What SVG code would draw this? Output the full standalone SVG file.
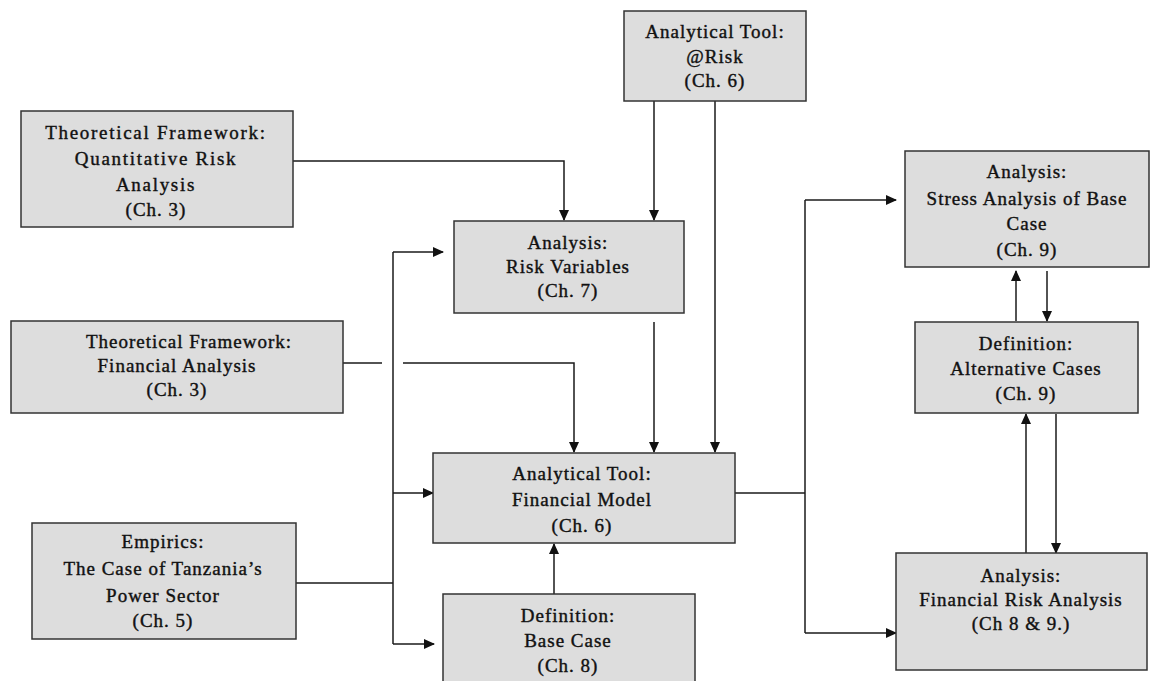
<svg xmlns="http://www.w3.org/2000/svg" width="1150" height="681" viewBox="0 0 1150 681">
<style>
.box{fill:#dddddd;stroke:#333333;stroke-width:1.5}
.t{font-family:"Liberation Serif","Times New Roman",serif;font-size:19px;fill:#111111;stroke:#111111;stroke-width:0.4;text-anchor:middle;letter-spacing:1px}
.c{fill:none;stroke:#1a1a1a;stroke-width:1.5}
</style>
<defs>
<marker id="ah" markerWidth="12" markerHeight="12" refX="10" refY="5" orient="auto" markerUnits="userSpaceOnUse">
<path d="M0,0 L11,5 L0,10 Z" fill="#111111"/>
</marker>
</defs>
<rect width="1150" height="681" fill="#ffffff"/>
<g id="connectors">
<path class="c" d="M293,161 H564 V220" marker-end="url(#ah)"/>
<path class="c" d="M654,101 V220" marker-end="url(#ah)"/>
<path class="c" d="M715,101 V452" marker-end="url(#ah)"/>
<path class="c" d="M654,322 V452" marker-end="url(#ah)"/>
<path class="c" d="M343,363 H382"/>
<path class="c" d="M403,363 H574 V452" marker-end="url(#ah)"/>
<path class="c" d="M296,583 H393"/>
<path class="c" d="M393,252 V644"/>
<path class="c" d="M393,252 H443" marker-end="url(#ah)"/>
<path class="c" d="M393,493 H433" marker-end="url(#ah)"/>
<path class="c" d="M393,644 H434" marker-end="url(#ah)"/>
<path class="c" d="M554,594 V544" marker-end="url(#ah)"/>
<path class="c" d="M735,493 H805"/>
<path class="c" d="M805,200 V633"/>
<path class="c" d="M805,200 H896" marker-end="url(#ah)"/>
<path class="c" d="M805,633 H896" marker-end="url(#ah)"/>
<path class="c" d="M1016,321 V271" marker-end="url(#ah)"/>
<path class="c" d="M1047,271 V321" marker-end="url(#ah)"/>
<path class="c" d="M1026,553 V414" marker-end="url(#ah)"/>
<path class="c" d="M1056,414 V553" marker-end="url(#ah)"/>
</g>
<g id="risk-tool">
<rect class="box" x="624" y="11" width="182" height="90"/>
<text class="t" x="715" y="38">Analytical Tool:</text>
<text class="t" x="715" y="63">@Risk</text>
<text class="t" x="715" y="87">(Ch. 6)</text>
</g>
<g id="quant-framework">
<rect class="box" x="21" y="111" width="272" height="116"/>
<text class="t" x="156" y="139" style="letter-spacing:1.7px">Theoretical Framework:</text>
<text class="t" x="156" y="165" style="letter-spacing:1.7px">Quantitative Risk</text>
<text class="t" x="156" y="191" style="letter-spacing:1.7px">Analysis</text>
<text class="t" x="156" y="216">(Ch. 3)</text>
</g>
<g id="risk-variables">
<rect class="box" x="454" y="221" width="230" height="92"/>
<text class="t" x="568" y="249">Analysis:</text>
<text class="t" x="568" y="273">Risk Variables</text>
<text class="t" x="568" y="297">(Ch. 7)</text>
</g>
<g id="financial-framework">
<rect class="box" x="11" y="321" width="332" height="92"/>
<text class="t" x="189" y="348">Theoretical Framework:</text>
<text class="t" x="177" y="372">Financial Analysis</text>
<text class="t" x="177" y="396">(Ch. 3)</text>
</g>
<g id="financial-model">
<rect class="box" x="433" y="453" width="302" height="90"/>
<text class="t" x="582" y="480">Analytical Tool:</text>
<text class="t" x="582" y="506">Financial Model</text>
<text class="t" x="582" y="532">(Ch. 6)</text>
</g>
<g id="empirics">
<rect class="box" x="32" y="523" width="264" height="116"/>
<text class="t" x="163" y="548">Empirics:</text>
<text class="t" x="163" y="575">The Case of Tanzania’s</text>
<text class="t" x="163" y="602">Power Sector</text>
<text class="t" x="163" y="627">(Ch. 5)</text>
</g>
<g id="base-case">
<rect class="box" x="443" y="594" width="252" height="110"/>
<text class="t" x="568" y="622">Definition:</text>
<text class="t" x="568" y="647">Base Case</text>
<text class="t" x="568" y="672">(Ch. 8)</text>
</g>
<g id="stress-analysis">
<rect class="box" x="905" y="151" width="244" height="116"/>
<text class="t" x="1027" y="178">Analysis:</text>
<text class="t" x="1027" y="205">Stress Analysis of Base</text>
<text class="t" x="1027" y="230">Case</text>
<text class="t" x="1027" y="256">(Ch. 9)</text>
</g>
<g id="alternative-cases">
<rect class="box" x="915" y="322" width="223" height="91"/>
<text class="t" x="1026" y="350">Definition:</text>
<text class="t" x="1026" y="375">Alternative Cases</text>
<text class="t" x="1026" y="400">(Ch. 9)</text>
</g>
<g id="financial-risk-analysis">
<rect class="box" x="896" y="553" width="251" height="117"/>
<text class="t" x="1021" y="582">Analysis:</text>
<text class="t" x="1021" y="606">Financial Risk Analysis</text>
<text class="t" x="1021" y="630">(Ch 8 &amp; 9.)</text>
</g>
</svg>
